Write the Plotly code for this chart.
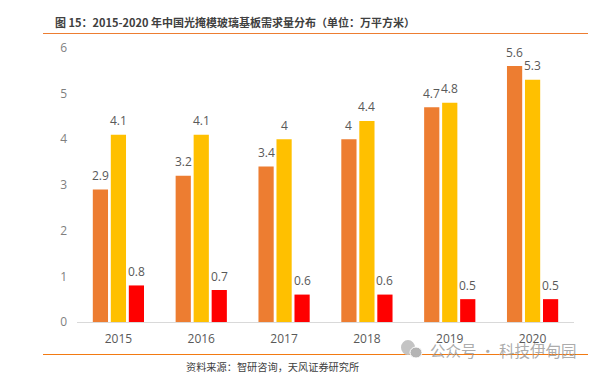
import plotly.graph_objects as go

years = ["2015", "2016", "2017", "2018", "2019", "2020"]
series_a = [2.9, 3.2, 3.4, 4, 4.7, 5.6]
series_b = [4.1, 4.1, 4, 4.4, 4.8, 5.3]
series_c = [0.8, 0.7, 0.6, 0.6, 0.5, 0.5]
y_ticks = [0, 1, 2, 3, 4, 5, 6]

W, H = 596, 373
L, R, T, B = 77, 574, 47.8, 322
TXT = "#595959"
FONT = "'Open Sans', 'Noto Sans CJK SC', sans-serif"
CJK = "'Noto Sans CJK SC', sans-serif"

def px(x):
    return x / W

def py(y):
    return 1 - y / H

fig = go.Figure()
annos = []
for vals, col, shift in [(series_a, "#ED7D31", -18), (series_b, "#FFC000", 0), (series_c, "#FF0000", 18)]:
    fig.add_bar(x=years, y=vals, marker=dict(color=col, line_width=0))
    for i, v in enumerate(vals):
        annos.append(dict(text=str(v), x=i, y=v, xref="x", yref="y", showarrow=False,
                          xanchor="center", yanchor="middle", xshift=shift, yshift=14,
                          font=dict(size=12, color=TXT, family=FONT)))

annos += [
    dict(text="<b>图 15：2015-2020 年中国光掩模玻璃基板需求量分布（单位：万平方米）</b>",
         xref="paper", yref="paper", x=px(53), y=py(22), xanchor="left", yanchor="middle",
         showarrow=False, font=dict(size=11, color="#404040", family=CJK)),
    dict(text="资料来源：智研咨询，天风证券研究所", xref="paper", yref="paper", x=px(184), y=py(366),
         xanchor="left", yanchor="middle", showarrow=False,
         font=dict(size=10.2, color="#404040", family=CJK)),
    dict(text="公众号 · 科技伊甸园", xref="paper", yref="paper", x=px(428), y=py(350),
         xanchor="left", yanchor="middle", showarrow=False,
         font=dict(size=15.5, color="rgba(150,150,150,0.8)", family=CJK)),
]

fig.update_layout(
    width=W, height=H, showlegend=False,
    paper_bgcolor="white", plot_bgcolor="white",
    margin=dict(l=0, r=0, t=0, b=0, pad=0, autoexpand=False),
    barmode="group", bargap=0.348, bargroupgap=0.155,
    font=dict(family=FONT, color=TXT),
    xaxis=dict(domain=[px(L), px(R)], type="category", categoryorder="array", categoryarray=years,
               range=[-0.5, len(years) - 0.5], autorange=False, showgrid=False, automargin=False,
               showline=True, linecolor="#D9D9D9", linewidth=1, ticks="",
               tickfont=dict(size=12, color=TXT), anchor="y", ticklabelstandoff=6),
    yaxis=dict(domain=[py(B), py(T)], range=[0, 6], tickvals=y_ticks, showgrid=False, automargin=False,
               showline=False, zeroline=False, ticks="", ticklabelstandoff=9,
               tickfont=dict(size=12, color="#7F7F7F"), anchor="x"),
    shapes=[
        dict(type="line", xref="paper", yref="paper", x0=px(43), x1=px(588), y0=py(33.5), y1=py(33.5),
             line=dict(color="#ED7D31", width=1)),
        dict(type="line", xref="paper", yref="paper", x0=px(43), x1=px(588), y0=py(354.5), y1=py(354.5),
             line=dict(color="#F27A12", width=1)),
        dict(type="circle", xref="paper", yref="paper", x0=px(401), x1=px(415), y0=py(355), y1=py(340),
             fillcolor="#C4C4C4", line_width=0, layer="above"),
        dict(type="circle", xref="paper", yref="paper", x0=px(410), x1=px(422), y0=py(358), y1=py(347),
             fillcolor="#B4B4B4", line=dict(color="white", width=1), layer="above"),
    ],
    annotations=annos,
)
fig.write_html("out.html", config=dict(displayModeBar=False),
               post_script="document.body.style.margin='0';document.documentElement.style.overflow='hidden';")
